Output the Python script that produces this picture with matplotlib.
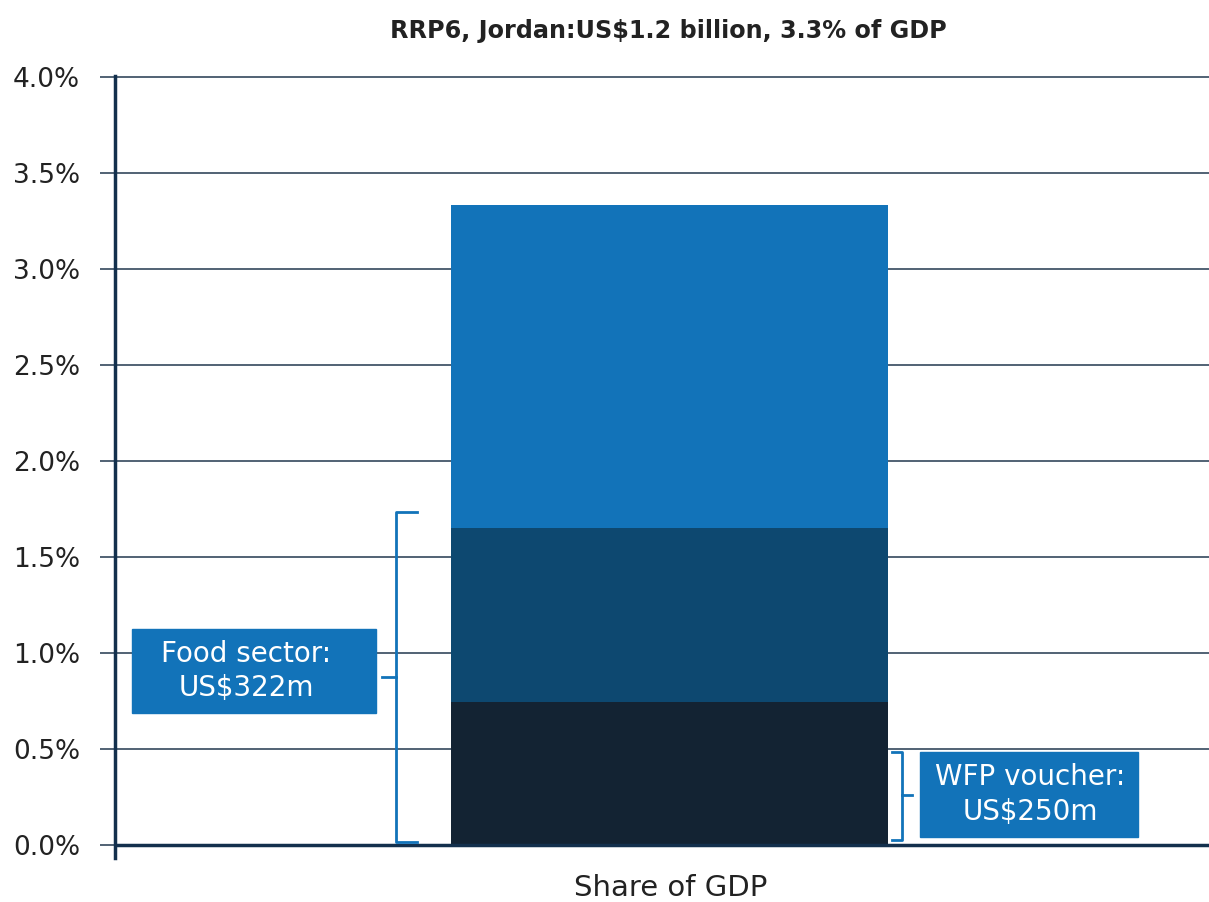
import matplotlib.pyplot as plt
from matplotlib.patches import Rectangle

# Data: stacked share of GDP (%), bottom to top
category = 'Share of GDP'
segments = [0.744, 0.905, 1.68]
seg_colors = ['#132333', '#0d4870', '#1273b9']
title = 'RRP6, Jordan:US$1.2 billion, 3.3% of GDP'
yticks = [0.0, 0.5, 1.0, 1.5, 2.0, 2.5, 3.0, 3.5, 4.0]

# Bracket annotations: (label, y bottom, y top)
food_label = 'Food sector:\nUS$322m'
food_span = (0.016, 1.732)
wfp_label = 'WFP voucher:\nUS$250m'
wfp_span = (0.026, 0.484)

blue = '#1273b9'
navy = '#13304d'

fig = plt.figure(figsize=(12.09, 9.02), dpi=100)
ax = fig.add_axes([0.0951, 0.0488, 0.9049, 0.8670])

bottom = 0
for val, col in zip(segments, seg_colors):
    ax.bar(0.507, val, width=0.4, bottom=bottom, color=col, zorder=3)
    bottom += val

ax.set_xlim(0, 1)
ax.set_ylim(-0.068, 4.003)
ax.set_yticks(yticks)
ax.set_yticklabels([f'{t:.1f}%' for t in yticks])
ax.set_xticks([])
ax.grid(axis='y', color='#22384e', linewidth=1.1, zorder=0)
ax.axhline(0, color=navy, linewidth=2.5, zorder=4)
ax.tick_params(axis='y', length=11, width=1.1, color='#22384e', pad=14,
               labelsize=19, labelcolor='#222222')
for s in ['top', 'right', 'bottom']:
    ax.spines[s].set_visible(False)
ax.spines['left'].set_color(navy)
ax.spines['left'].set_linewidth(2.5)
ax.spines['left'].set_zorder(5)

ax.set_xlabel(category, fontsize=21, color='#222222', va='center')
ax.xaxis.set_label_coords(0.508, -0.038)
fig.text(0.553, 0.966, title, ha='center', va='center', fontsize=17.2,
         fontweight='bold', color='#222222')

# Food sector bracket (opens to the right)
bx = 0.257
ax.plot([0.276, bx, bx, 0.276], [food_span[1], food_span[1], food_span[0], food_span[0]],
        color=blue, linewidth=2, zorder=5)
ax.plot([0.244, bx], [0.874, 0.874], color=blue, linewidth=2, zorder=5)
ax.add_patch(Rectangle((0.0155, 0.6866), 0.2231, 0.4369, color=blue, zorder=6))
ax.text(0.120, 0.905, food_label, ha='center', va='center', color='white',
        fontsize=20, zorder=7, linespacing=1.3)

# WFP voucher bracket (opens to the left)
wx = 0.7194
ax.plot([0.710, wx, wx, 0.710], [wfp_span[1], wfp_span[1], wfp_span[0], wfp_span[0]],
        color=blue, linewidth=2, zorder=5)
ax.plot([wx, 0.7285], [0.26, 0.26], color=blue, linewidth=2, zorder=5)
ax.add_patch(Rectangle((0.7358, 0.0416), 0.1993, 0.4421, color=blue, zorder=6))
ax.text(0.8365, 0.262, wfp_label, ha='center', va='center', color='white',
        fontsize=20, zorder=7, linespacing=1.3)

fig.savefig('out.png', dpi=100)
